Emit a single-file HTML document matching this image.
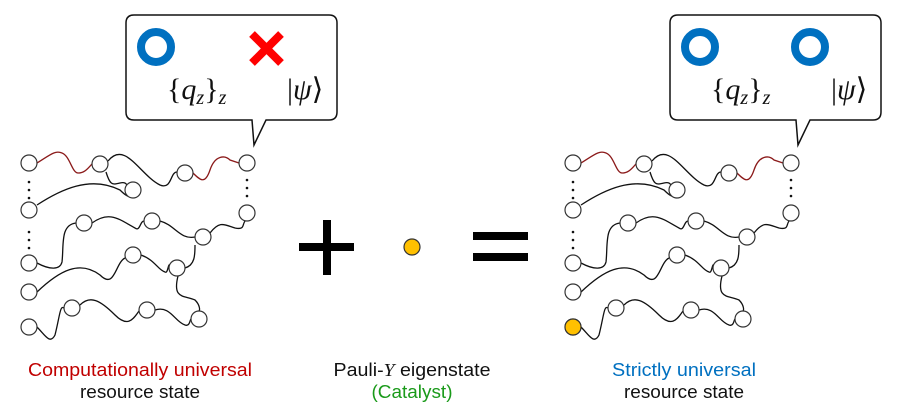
<!DOCTYPE html>
<html><head><meta charset="utf-8"><style>
body{margin:0;background:#fff}
svg{display:block}
text{font-family:"Liberation Sans",sans-serif}
.m{font-family:"Liberation Serif",serif;font-style:italic}
.u{font-style:normal}
</style></head><body>
<svg width="900" height="420" viewBox="0 0 900 420" xmlns="http://www.w3.org/2000/svg">
<defs>
<g id="graph">
 <g fill="none" stroke="#111" stroke-width="1.3">
  <path d="M108,161 C125,140 140,175 160,185 C172,190 170,172 177,172" />
  <path d="M106,172 C110,185 112,185 120,183 C128,181 128,188 127,190"/>
  <path d="M37,205 C60,190 90,175 120,190 C125,195 128,197 133,198"/>
  <path d="M37,263 C50,270 60,270 62,262 C64,245 60,225 76,223"/>
  <path d="M92,223 C110,210 120,220 135,228 C140,232 140,221 144,221"/>
  <path d="M160,221 C175,225 180,240 195,237"/>
  <path d="M210,233 C220,220 225,225 235,228 C245,230 242,225 245,221"/>
  <path d="M37,292 C60,270 80,260 100,275 C115,290 115,263 125,258"/>
  <path d="M141,255 C155,260 158,270 165,272 C168,274 168,263 170,265"/>
  <path d="M185,268 C195,265 195,255 195,245"/>
  <path d="M178,276 C172,300 185,295 195,300 C200,305 200,310 199,311"/>
  <path d="M37,327 C45,335 50,345 55,335 C60,315 60,305 64,308"/>
  <path d="M80,305 C90,295 100,300 115,315 C130,330 135,315 140,310"/>
  <path d="M155,310 C170,305 175,322 185,325 C190,327 190,319 191,319"/>
 </g>
 <g fill="none" stroke="#8b1a1a" stroke-width="1.3">
  <path d="M37,163 C50,155 55,150 62,153 C70,156 72,173 78,173 C85,173 88,168 92,164"/>
  <path d="M193,173 C200,180 205,185 210,170 C215,155 225,155 230,160 L239,163"/>
 </g>
 <g fill="#111">
  <circle cx="29" cy="182" r="1.3"/><circle cx="29" cy="190" r="1.3"/><circle cx="29" cy="198" r="1.3"/>
  <circle cx="29" cy="232" r="1.3"/><circle cx="29" cy="240" r="1.3"/><circle cx="29" cy="248" r="1.3"/>
  <circle cx="247" cy="180" r="1.3"/><circle cx="247" cy="188" r="1.3"/><circle cx="247" cy="196" r="1.3"/>
 </g>
 <g fill="#fff" stroke="#333" stroke-width="1.2">
  <circle cx="29" cy="163" r="8"/><circle cx="100" cy="164" r="8"/><circle cx="185" cy="173" r="8"/><circle cx="247" cy="163" r="8"/>
  <circle cx="133" cy="190" r="8"/><circle cx="29" cy="210" r="8"/><circle cx="247" cy="213" r="8"/>
  <circle cx="29" cy="263" r="8"/><circle cx="84" cy="223" r="8"/><circle cx="152" cy="221" r="8"/><circle cx="203" cy="237" r="8"/>
  <circle cx="133" cy="255" r="8"/><circle cx="177" cy="268" r="8"/>
  <circle cx="29" cy="292" r="8"/>
  <circle cx="29" cy="327" r="8"/><circle cx="72" cy="308" r="8"/><circle cx="147" cy="310" r="8"/><circle cx="199" cy="319" r="8"/>
 </g>
</g>
<g id="bubble">
 <path d="M134,15 H329 Q337,15 337,23 V112 Q337,120 329,120 H266 L254,145 L252,120 H134 Q126,120 126,112 V23 Q126,15 134,15 Z" fill="#fff" stroke="#111" stroke-width="1.5"/>
 <circle cx="156" cy="47" r="15" fill="none" stroke="#0070c0" stroke-width="8"/>
 <text x="167" y="99" font-size="30" class="m" fill="#111"><tspan class="u">{</tspan>q<tspan font-size="20" dy="5">z</tspan><tspan class="u" dy="-5">}</tspan><tspan font-size="20" dy="5">z</tspan></text>
 <text x="287" y="99" font-size="30" class="m" fill="#111"><tspan class="u">|</tspan>ψ<tspan class="u">⟩</tspan></text>
</g>
</defs>
<use href="#graph"/>
<use href="#bubble"/>
<g stroke="#f00" stroke-width="8"><line x1="252" y1="34" x2="281" y2="63"/><line x1="281" y1="34" x2="252" y2="63"/></g>
<g transform="translate(544,0)">
 <use href="#graph"/>
 <use href="#bubble"/>
 <circle cx="266" cy="47" r="15" fill="none" stroke="#0070c0" stroke-width="8"/>
 <circle cx="29" cy="327" r="8" fill="#ffc000" stroke="#333" stroke-width="1.2"/>
</g>
<rect x="323" y="220" width="8" height="55" fill="#000"/>
<rect x="299" y="243" width="55" height="8" fill="#000"/>
<circle cx="412" cy="247" r="8" fill="#ffc000" stroke="#333" stroke-width="1.2"/>
<rect x="473" y="232" width="55" height="8" fill="#000"/>
<rect x="473" y="253" width="55" height="8" fill="#000"/>
<g font-size="18" text-anchor="middle" lengthAdjust="spacingAndGlyphs">
 <text x="140" y="376" fill="#c00000" textLength="224" lengthAdjust="spacingAndGlyphs">Computationally universal</text>
 <text x="140" y="398" fill="#111" textLength="120" lengthAdjust="spacingAndGlyphs">resource state</text>
 <text x="412" y="376" fill="#111" textLength="157" lengthAdjust="spacingAndGlyphs">Pauli-<tspan class="m">Y</tspan> eigenstate</text>
 <text x="412" y="398" fill="#1a9a1a" textLength="81" lengthAdjust="spacingAndGlyphs">(Catalyst)</text>
 <text x="684" y="376" fill="#0070c0" textLength="144" lengthAdjust="spacingAndGlyphs">Strictly universal</text>
 <text x="684" y="398" fill="#111" textLength="120" lengthAdjust="spacingAndGlyphs">resource state</text>
</g>
</svg>
</body></html>
